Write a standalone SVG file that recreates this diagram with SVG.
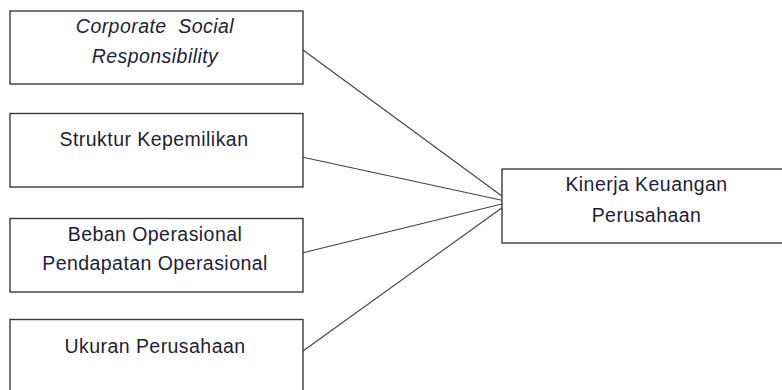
<svg xmlns="http://www.w3.org/2000/svg" width="782" height="390" viewBox="0 0 782 390">
<style>
.box{fill:#fff;stroke:#3a3a3a;stroke-width:1.4}
.t{font-family:"Liberation Sans",Arial,sans-serif;font-size:19.5px;letter-spacing:0.45px;fill:#1e1e36;text-anchor:middle}
.i{font-style:italic}
.c{stroke:#404040;stroke-width:1.1;fill:none}
</style>
<defs>
<marker id="ah" viewBox="0 0 8 6" refX="8" refY="3" markerWidth="8" markerHeight="6" markerUnits="userSpaceOnUse" orient="auto">
<path d="M0,0.8 L8,3 L0,5.2 Z" fill="#333"/>
</marker>
</defs>
<rect width="782" height="390" fill="#fff"/>
<g id="connectors">
<line class="c" x1="303" y1="50" x2="510" y2="202" marker-end="url(#ah)"/>
<line class="c" x1="303" y1="157.3" x2="510" y2="202" marker-end="url(#ah)"/>
<line class="c" x1="303" y1="252.7" x2="510" y2="202" marker-end="url(#ah)"/>
<line class="c" x1="303" y1="351" x2="510" y2="202" marker-end="url(#ah)"/>
</g>
<g id="csr">
<rect class="box" x="10" y="11" width="293" height="73"/>
<text class="t i" x="155" y="32.5" xml:space="preserve">Corporate  Social</text>
<text class="t i" x="155" y="62.5">Responsibility</text>
</g>
<g id="struktur">
<rect class="box" x="10" y="113.5" width="293" height="73.5"/>
<text class="t" x="154" y="146">Struktur Kepemilikan</text>
</g>
<g id="bopo">
<rect class="box" x="10" y="218.5" width="293" height="73.5"/>
<text class="t" x="155" y="240.5">Beban Operasional</text>
<text class="t" x="155" y="270">Pendapatan Operasional</text>
</g>
<g id="ukuran">
<rect class="box" x="10" y="319.5" width="293" height="80"/>
<text class="t" x="155" y="353">Ukuran Perusahaan</text>
</g>
<g id="kinerja">
<rect class="box" x="502" y="169" width="290" height="74"/>
<text class="t" x="646.5" y="191">Kinerja Keuangan</text>
<text class="t" x="646.5" y="221.5">Perusahaan</text>
</g>
</svg>
